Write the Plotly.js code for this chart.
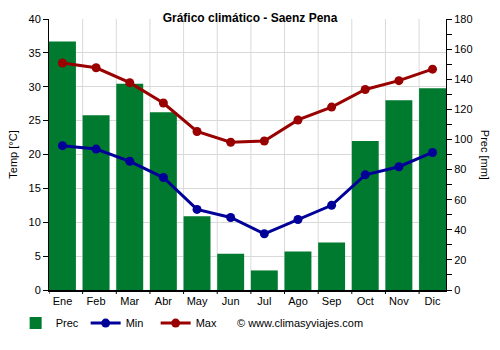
<!DOCTYPE html>
<html><head><meta charset="utf-8">
<script src="https://cdn.plot.ly/plotly-3.0.1.min.js"></script>
<style>body{margin:0;padding:0;background:#fff}#chart{width:500px;height:350px}</style>
</head><body><div id="chart"></div>
<script>
var months = ["Ene","Feb","Mar","Abr","May","Jun","Jul","Ago","Sep","Oct","Nov","Dic"];
var prec = [165,116,137,118,49,24,13,25.5,31.5,99,126,134];
var tmin = [21.3,20.8,19.0,16.6,11.9,10.7,8.3,10.4,12.5,17.0,18.2,20.3];
var tmax = [33.5,32.8,30.6,27.6,23.4,21.8,22.0,25.1,27.0,29.6,30.9,32.6];

var font = "Liberation Sans, Arial, sans-serif";
var traces = [
  {type:"bar", name:"Prec", x:months, y:prec, xaxis:"x", yaxis:"y", width:0.8, marker:{color:"#007a2f", line:{width:0}}},
  {type:"scatter", mode:"lines+markers", name:"Min", x:months, y:tmin, xaxis:"x", yaxis:"y2",
   line:{color:"#000099", width:3}, marker:{color:"#000099", size:9}},
  {type:"scatter", mode:"lines+markers", name:"Max", x:months, y:tmax, xaxis:"x", yaxis:"y2",
   line:{color:"#990000", width:3}, marker:{color:"#990000", size:9}}
];

// month-boundary grid lines and tick marks (chart chrome, one per month)
var shapes = [];
months.forEach(function(m, i){
  var xb = i - 0.4;
  if (i > 0) shapes.push({type:"line", xref:"x", yref:"paper", x0:xb, x1:xb, y0:0, y1:1, layer:"below", line:{color:"#d9d9d9", width:1}});
  shapes.push({type:"line", xref:"x", yref:"paper", x0:xb, x1:xb, y0:0, y1:-0.0147, layer:"above", line:{color:"#000", width:1}});
});

var layout = {
  width:500, height:350,
  margin:{l:48.5, r:54.3, t:19.3, b:57.3},
  paper_bgcolor:"#fff", plot_bgcolor:"#fff",
  font:{family:font, size:11, color:"#000"},
  title:{text:"<b>Gráfico climático - Saenz Pena</b>", font:{size:12, family:font, color:"#000"}, x:0.5, xanchor:"center", y:0.95, yanchor:"middle"},
  showlegend:true,
  legend:{orientation:"h", x:-0.084, xanchor:"left", y:-0.122, yanchor:"middle", font:{size:11}, itemwidth:30, traceorder:"normal", entrywidth:25},
  xaxis:{type:"category", range:[-0.4, 11.4], ticks:"", showgrid:false, showline:true, linecolor:"#000", linewidth:2,
    tickfont:{size:11}, fixedrange:true, layer:"above traces"},
  yaxis:{side:"right", range:[0,180], dtick:20, ticks:"outside", ticklen:5, tickcolor:"#000",
    showgrid:false, showline:true, linecolor:"#000", linewidth:1, zeroline:false,
    minor:{dtick:10, ticks:"outside", ticklen:5, tickcolor:"#000", showgrid:false},
    tickfont:{size:11}},
  yaxis2:{side:"left", overlaying:"y", range:[0,40], dtick:5, ticks:"outside", ticklen:5, tickcolor:"#000",
    showgrid:true, gridcolor:"#d9d9d9", showline:true, linecolor:"#000", linewidth:1, zeroline:false,
    title:{text:"Temp [°C]", font:{size:11}, standoff:8}, tickfont:{size:11}},
  shapes: shapes,
  annotations:[
    {text:"Prec [mm]", xref:"paper", yref:"paper", x:1.1, y:0.5, textangle:90, showarrow:false, font:{size:11}, xanchor:"center", yanchor:"middle"},
    {text:"© www.climasyviajes.com", xref:"paper", yref:"paper", x:0.468, y:-0.122, xanchor:"left", yanchor:"middle", showarrow:false, font:{size:11}}
  ]
};
Plotly.newPlot("chart", traces, layout, {staticPlot:true});
</script></body></html>
